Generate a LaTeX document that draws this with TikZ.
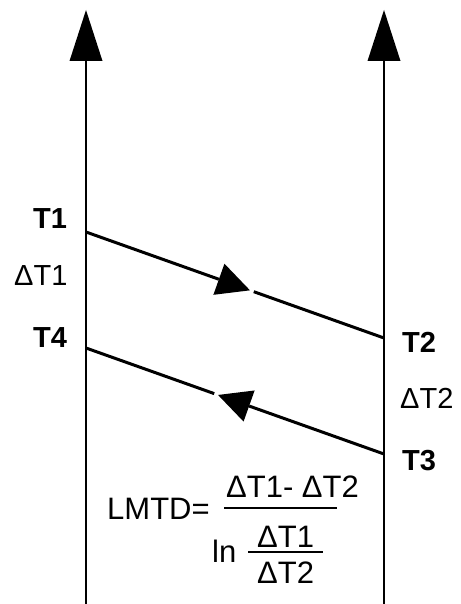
\documentclass[tikz,border=0pt]{standalone}
\usepackage{fontspec}
\setmainfont{Liberation Sans}
\usetikzlibrary{calc}
\tikzset{
  lbl/.style={inner sep=0pt, anchor=base west, font=\fontsize{29}{33}\selectfont},
  blbl/.style={lbl, font=\fontsize{29}{33}\selectfont\bfseries},
  frm/.style={inner sep=0pt, anchor=base west, font=\fontsize{31}{35}\selectfont},
  axis/.style={line width=2pt},
  flow/.style={line width=3pt},
  head/.style={fill=black, draw=none},
  bar/.style={line width=2.2pt}
}
\begin{document}
\begin{tikzpicture}[x=1pt,y=-1pt]
\useasboundingbox (0,0) rectangle (460,604);
% time axes
\coordinate (lb) at (86,604);
\coordinate (lt) at (86,61);
\coordinate (ltip) at (86,10);
\coordinate (rb) at (384,604);
\coordinate (rt) at (384,61);
\coordinate (rtip) at (384,10);
\draw[axis] (lb) -- (lt);
\draw[axis] (rb) -- (rt);
\fill[head] (ltip) -- ($(lt)+(-16.5,0)$) -- ($(lt)+(16.5,0)$) -- cycle;
\fill[head] (rtip) -- ($(rt)+(-16.5,0)$) -- ($(rt)+(16.5,0)$) -- cycle;
% event points
\coordinate (p1) at (86,232);
\coordinate (p2) at (384,338);
\coordinate (p4) at (86,348);
\coordinate (p3) at (384,454);
% top message T1 -> T2
\coordinate (b1) at ($(p1)!0.446!(p2)$);
\coordinate (t1) at ($(p1)!0.5503!(p2)$);
\coordinate (r1) at ($(p1)!0.563!(p2)$);
\draw[flow] (p1) -- (b1);
\draw[flow] (r1) -- (p2);
\fill[head] (t1) -- ($(b1)!16.5pt!90:(t1)$) -- ($(b1)!16.5pt!-90:(t1)$) -- cycle;
% bottom message T3 -> T4
\coordinate (b2) at ($(p3)!0.4527!(p4)$);
\coordinate (t2) at ($(p3)!0.557!(p4)$);
\coordinate (r2) at ($(p3)!0.5697!(p4)$);
\draw[flow] (p3) -- (b2);
\draw[flow] (r2) -- (p4);
\fill[head] (t2) -- ($(b2)!16.5pt!90:(t2)$) -- ($(b2)!16.5pt!-90:(t2)$) -- cycle;
% labels
\node[blbl] (T1) at (33,228) {T1};
\node[lbl] (dT1) at (14,285) {ΔT1};
\node[blbl] (T4) at (33,347) {T4};
\node[blbl] (T2) at (402,352) {T2};
\node[lbl] (dT2) at (400,408) {ΔT2};
\node[blbl] (T3) at (402,470) {T3};
% formula
\node[frm] (lmtd) at (107,519) {LMTD=};
\node[frm] (num) at (226,497) {ΔT1- ΔT2};
\coordinate (bar1l) at (224,508);
\coordinate (bar1r) at (337,508);
\draw[bar] (bar1l) -- (bar1r);
\node[frm] (ln) at (212,562) {ln};
\node[frm] (inum) at (257,547) {ΔT1};
\coordinate (bar2l) at (248,552);
\coordinate (bar2r) at (323,552);
\draw[bar] (bar2l) -- (bar2r);
\node[frm] (iden) at (257,583) {ΔT2};
\end{tikzpicture}
\end{document}
